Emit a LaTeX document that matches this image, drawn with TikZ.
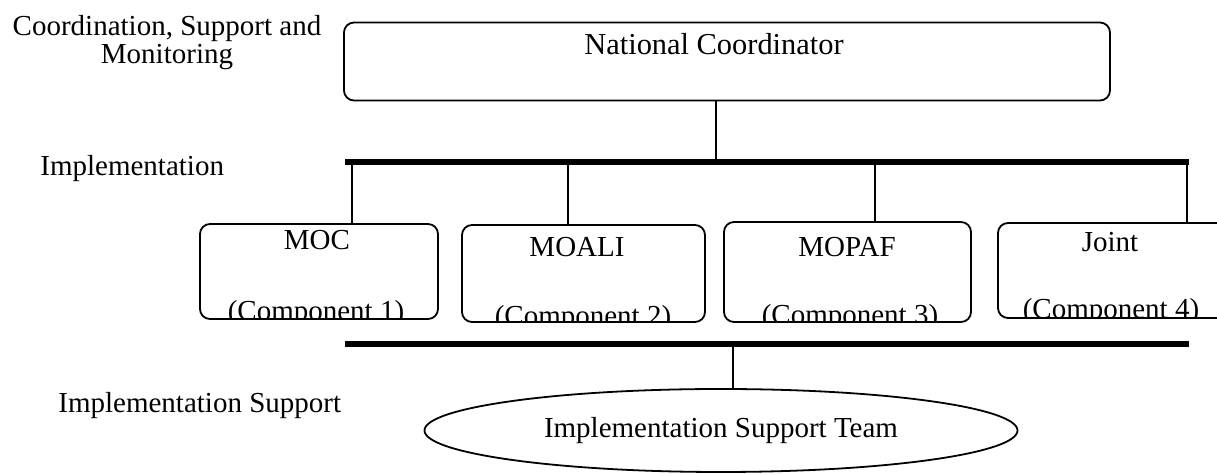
\documentclass[tikz,border=0pt]{standalone}
\usepackage{fontspec}
\setmainfont{Liberation Serif}
\usepackage{tikz}
\usetikzlibrary{shapes.geometric}

\begin{document}
\begin{tikzpicture}[x=0.5pt,y=-0.5pt,
		font=\fontsize{14.5}{14}\selectfont,
		thinline/.style={black, line width=0.8pt},
		barline/.style={black, line width=2.8pt},
		roundbox/.style={draw, black, line width=0.9pt, rounded corners=5pt, inner sep=0pt},
		txt/.style={anchor=base, inner sep=0pt}]
		\clip (0,0) rectangle (1217,474);
		% labels on the left
		\node[align=center, inner sep=0pt] (lcsm) at (167,43) {Coordination, Support and\\Monitoring};
		\node[txt, anchor=base west] (limp) at (40,176) {Implementation};
		\node[txt, anchor=base west] (lsup) at (58,413) {Implementation Support};
		% national coordinator
		\node[roundbox, minimum width=383pt, minimum height=39pt] (natco) at (727,61.5) {};
		\node[txt, font=\fontsize{15.2}{15}\selectfont] (natcotxt) at (714,55) {National Coordinator};
		% bars
		\coordinate (topL) at (345,162);
		\coordinate (topR) at (1189,162);
		\coordinate (botL) at (345,344);
		\coordinate (botR) at (1189,344);
		\draw[barline] (topL) -- (topR);
		\draw[barline] (botL) -- (botR);
		% components
		\node[roundbox, minimum width=119pt, minimum height=47.5pt] (moc) at (319,271.5) {};
		\node[roundbox, minimum width=121.5pt, minimum height=48.5pt] (moali) at (583.5,273.5) {};
		\node[roundbox, minimum width=123.5pt, minimum height=50pt] (mopaf) at (847.5,272) {};
		\node[roundbox, minimum width=121pt, minimum height=47.5pt] (joint) at (1119,270.5) {};
		\begin{scope}
			\clip[rounded corners=5pt] (moc.south west) rectangle (moc.north east);
			\node[txt] (moc1) at (317,250) {MOC};
			\node[txt] (moc2) at (316,321) {(Component 1)};
		\end{scope}
		\begin{scope}
			\clip[rounded corners=5pt] (moali.south west) rectangle (moali.north east);
			\node[txt] (moali1) at (577,257) {MOALI};
			\node[txt] (moali2) at (583,326) {(Component 2)};
		\end{scope}
		\begin{scope}
			\clip[rounded corners=5pt] (mopaf.south west) rectangle (mopaf.north east);
			\node[txt] (mopaf1) at (847,257) {MOPAF};
			\node[txt] (mopaf2) at (850,325) {(Component 3)};
		\end{scope}
		\begin{scope}
			\clip[rounded corners=5pt] (joint.south west) rectangle (joint.north east);
			\node[txt] (joint1) at (1110,252) {Joint};
			\node[txt] (joint2) at (1111,319) {(Component 4)};
		\end{scope}
		% support team
		\node[draw, black, line width=0.9pt, ellipse, inner sep=0pt, minimum width=296.5pt, minimum height=41.5pt] (ist) at (721,430.5) {Implementation Support Team};
		% connectors
		\coordinate (tnat) at (716,162);
		\coordinate (d1) at (352,162);
		\coordinate (d2) at (568,162);
		\coordinate (d3) at (875,162);
		\coordinate (d4) at (1187,162);
		\coordinate (dsup) at (733,344);
		\draw[thinline] (tnat |- natco.south) -- (tnat);
		\draw[thinline] (d1) -- (d1 |- moc.north);
		\draw[thinline] (d2) -- (d2 |- moali.north);
		\draw[thinline] (d3) -- (d3 |- mopaf.north);
		\draw[thinline] (d4) -- (d4 |- joint.north);
		\draw[thinline] (dsup) -- (dsup |- ist.north);
	\end{tikzpicture}
\end{document}
